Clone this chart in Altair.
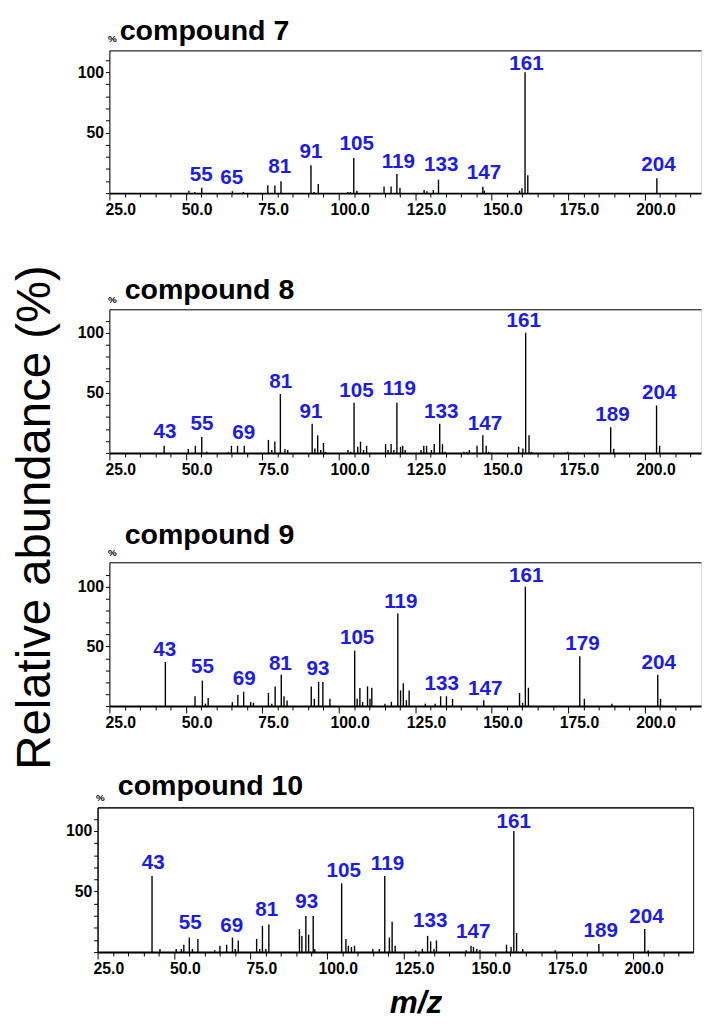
import altair as alt
import pandas as pd

FONT = "Liberation Sans"
BLUE = "#1c1ce6"

# ---------------- compound 7 ----------------
c7_mz = [51, 52.9, 55.2, 65.2, 68.8, 76.8, 79.1, 81.1, 90.9, 91.9, 93.3, 103, 103.8, 104.9, 105.9,
         114.8, 117.1, 119, 120, 127.9, 128.8, 130.9, 132.6, 147.1, 147.6, 159.1, 159.9, 160.9, 161.8, 204]
c7_ab = [2, 1, 4.4, 1.6, 1, 6.5, 6.3, 9.8, 23, 1, 7.6, 1, 1, 29, 2,
         5.4, 5.4, 15.8, 4.4, 2.7, 1.5, 2.7, 11.2, 5.2, 2, 2, 4, 100, 14.7, 12.3]
c7_lab = ["55", "65", "81", "91", "105", "119", "133", "147", "161", "204"]
c7_lab_x = [55, 65, 80.7, 90.9, 105.9, 119.5, 133.5, 147.5, 161.4, 204.5]
c7_lab_y = [10.1, 7.4, 16.3, 29.2, 36, 21, 18.3, 11.4, 101.4, 18.3]

# ---------------- compound 8 ----------------
c8_mz = [42.9, 50.8, 53.1, 55.2, 56.9, 63.9, 64.9, 66.9, 69.1, 77, 78.1, 79.1, 80.9, 82.4, 83.3,
         91.3, 92.2, 93.1, 94.1, 95, 95.7, 103, 103.9, 105, 106.2, 107.1, 108.1, 109.1,
         115.3, 116.1, 117.1, 118, 119, 120.2, 120.9, 121.7, 126.9, 127.8, 128.7, 130.3, 131.2,
         133, 133.9, 134.8, 140.9, 141.8, 142.7, 145.2, 147.1, 148.2, 149, 158.8, 160.2, 161.1,
         162.2, 163, 174.9, 188.9, 189.9, 203.9, 204.9]
c8_ab = [6, 3.3, 6, 13.4, 1, 1, 6, 6, 6, 10.9, 2.5, 9.5, 49, 3.3, 2.5,
         24.3, 3.8, 14.7, 2.5, 8.4, 1, 2.5, 1, 41.7, 5.2, 9.5, 2.5, 6,
         7.4, 2.5, 7.4, 2.5, 41.7, 5.2, 6, 2.5, 2.5, 6, 6, 2.5, 7.4,
         24.3, 7.4, 1, 1, 1, 2.5, 6, 14.7, 6, 1, 5.2, 3.8, 100,
         14.7, 1, 1, 21.5, 3.5, 39.5, 6]
c8_lab = ["43", "55", "69", "81", "91", "105", "119", "133", "147", "161", "189", "204"]
c8_lab_x = [43.2, 55.3, 68.9, 81, 90.9, 105.8, 119.8, 133.5, 147.8, 160.5, 189.5, 204.8]
c8_lab_y = [12.5, 18.8, 11.4, 54.2, 29.2, 46.6, 48.2, 29.2, 19.3, 104.6, 27, 44.7]

# ---------------- compound 9 ----------------
c9_mz = [43.3, 53, 55.4, 56.4, 57.3, 65.2, 67, 68.9, 71.2, 72.1, 77, 78.1, 79.2, 81.2, 82.1, 83.1,
         91, 92, 93.4, 94.8, 97.1, 105.2, 106, 106.9, 107.8, 109.4, 110.2, 110.8,
         115.1, 117.2, 119.3, 120.2, 121.1, 122.1, 123, 128.3, 131.5, 133.3, 135.2, 137.2,
         147.4, 159.1, 160.1, 161, 162, 178.8, 180.3, 189.3, 204.3, 205.2]
c9_ab = [36.9, 8.2, 21.3, 2, 6.8, 3.3, 9.3, 12, 3.3, 2.7, 10.9, 2, 16.4, 26.2, 8.2, 4.6,
         16.4, 6, 20.2, 20.2, 6, 46.4, 6, 15, 3.3, 16.4, 6, 15.3,
         2, 3.5, 77.6, 13.1, 19.1, 4.9, 13.1, 2, 2, 8.2, 8.2, 6,
         4.9, 10.9, 2.7, 100, 15.3, 41.8, 6, 2, 26.2, 6]
c9_lab = ["43", "55", "69", "81", "93", "105", "119", "133", "147", "161", "179", "204"]
c9_lab_x = [43.1, 55.4, 69.1, 80.9, 93.2, 106, 120.3, 133.7, 147.9, 161.3, 179.7, 204.6]
c9_lab_y = [42.3, 27.3, 17.8, 30.6, 26, 52, 82.5, 13.1, 9.6, 103.8, 47, 31.4]

# ---------------- compound 10 ----------------
c10_mz = [42.8, 45.4, 50.7, 52.4, 53.2, 55, 56, 57.8, 63.3, 65, 67.2, 69.1, 70, 71,
          77, 78, 78.9, 80, 81, 91, 91.8, 93.1, 94, 95.5, 96, 104.8, 106.2, 107, 108, 109,
          115, 117.1, 118.9, 120.4, 121.3, 122.3, 129, 131.2, 132.9, 133.9, 135, 135.8,
          145.5, 147.1, 147.9, 149, 150, 158.7, 160.2, 161.1, 162, 164, 174.6, 188.9, 203.9, 205]
c10_ab = [62.8, 2.6, 2.6, 2.6, 6.1, 12, 2.6, 10.9, 1.5, 5.3, 6.1, 12, 2.6, 9.6,
          10.9, 2.6, 21.7, 2.6, 22.8, 19, 13.4, 29.8, 14.4, 29.8, 2.6, 56.8, 10.9, 5.3, 4.2, 5.3,
          2.6, 2.6, 62.8, 12, 25, 5.3, 1.5, 2.6, 13.4, 8.8, 2.6, 9.6,
          1.5, 5.3, 4.2, 2.6, 2, 6.1, 4.2, 100, 15.8, 2.6, 1.5, 6.6, 19, 1.5]
c10_lab = ["43", "55", "69", "81", "93", "105", "119", "133", "147", "161", "189", "204"]
c10_lab_x = [43.2, 55.3, 68.9, 80.3, 93.4, 105.5, 119.8, 133.8, 147.8, 161.1, 189.5, 204.5]
c10_lab_y = [69, 18.8, 16.9, 29.6, 36.6, 61.9, 68.2, 20.4, 11.5, 102.4, 12.8, 24.2]

x_ticks = list(range(25, 216, 5))
y_ticks = list(range(0, 111, 10))

# layout per panel: plot size, y range, title placement, left shim width, bottom shim height
panels = [
    dict(name="compound 7", mz=c7_mz, ab=c7_ab, lab=c7_lab, lx=c7_lab_x, ly=c7_lab_y,
         width=601, height=145, ymax=118, tdx=10, tgap=11, pct_y=-9, shim_w=15, shim_h=187, box=False),
    dict(name="compound 8", mz=c8_mz, ab=c8_ab, lab=c8_lab, lx=c8_lab_x, ly=c8_lab_y,
         width=601, height=146, ymax=119.5, tdx=15, tgap=10.7, pct_y=-7, shim_w=15, shim_h=173, box=False),
    dict(name="compound 9", mz=c9_mz, ab=c9_ab, lab=c9_lab, lx=c9_lab_x, ly=c9_lab_y,
         width=601, height=146, ymax=120.5, tdx=15, tgap=19.3, pct_y=-7, shim_w=15, shim_h=1, box=False),
    dict(name="compound 10", mz=c10_mz, ab=c10_ab, lab=c10_lab, lx=c10_lab_x, ly=c10_lab_y,
         width=605, height=147, ymax=119.5, tdx=20, tgap=13.3, pct_y=-7, shim_w=1, shim_h=1, box=True),
]

PX_PER_UNIT = 3.107


def make_panel(p, last):
    xmax = 25 + p["width"] / PX_PER_UNIT
    xscale = alt.Scale(domain=[25, xmax], nice=False, zero=False)
    yscale = alt.Scale(domain=[0, p["ymax"]], nice=False, zero=True)
    peaks = pd.DataFrame({"mz": p["mz"], "ab": p["ab"]})
    labels = pd.DataFrame({"mz": p["lx"], "ab": p["ly"], "txt": p["lab"]})

    xaxis_kw = dict(
        values=x_ticks,
        labelExpr="datum.value % 25 === 0 ? format(datum.value, '.1f') : ''",
        tickSize={"condition": {"test": "datum.value % 25 === 0", "value": 7}, "value": 4},
        tickColor="black", tickWidth=1,
        labelOffset=11, labelPadding=2, labelFontSize=16, labelFontWeight="bold",
        labelColor="black", labelFont=FONT, labelFlush=False, labelOverlap=False,
        domainColor="black", domainWidth=2, grid=False,
    )
    if last:
        xaxis_kw.update(title="m/z", titleFont=FONT, titleFontSize=32, titleFontWeight="bold",
                        titleFontStyle="italic", titleColor="black", titleX=323, titleY=61,
                        titleBaseline="alphabetic", titleAlign="center")
    else:
        xaxis_kw.update(title=None)
    xaxis = alt.Axis(**xaxis_kw)

    yaxis = alt.Axis(
        values=y_ticks,
        labelExpr="datum.value == 50 || datum.value == 100 ? datum.value : ''",
        tickSize=4, tickColor="black", labelPadding=2, labelFontSize=16,
        labelFontWeight="bold", labelColor="black", labelFont=FONT,
        domainColor="black", domainWidth=1, grid=False, labelOverlap=False, labelFlush=False,
        title="%", titleAngle=0, titleX=-2, titleY=p["pct_y"], titleAlign="left",
        titleBaseline="alphabetic", titleFontSize=10, titleFontWeight="bold", titleFont=FONT,
        titleColor="black",
    )

    top_axis = alt.Axis(orient="top", ticks=False, labels=False, domain=True, domainColor="black",
                        domainWidth=1, grid=False, title=p["name"], titleAngle=0, titleX=p["tdx"],
                        titleY=-p["tgap"], titleAlign="left", titleBaseline="alphabetic",
                        titleFontSize=29, titleFontWeight="bold", titleFont=FONT, titleColor="black")

    sticks = alt.Chart(peaks).mark_rule(color="black", strokeWidth=1.4).encode(
        x=alt.X("mz:Q", scale=xscale, axis=xaxis),
        y=alt.Y("ab:Q", scale=yscale, axis=yaxis),
        y2=alt.datum(0),
    )
    texts = alt.Chart(labels).mark_text(
        font=FONT, fontSize=21, fontWeight="bold", color=BLUE, align="center", baseline="alphabetic"
    ).encode(
        x=alt.X("mz:Q", scale=xscale, axis=top_axis),
        y=alt.Y("ab:Q", scale=yscale, axis=yaxis),
        text="txt:N",
    )
    props = dict(width=p["width"], height=p["height"])
    if p["box"]:
        props["view"] = alt.ViewBackground(stroke="black", strokeWidth=1)
    plot = alt.layer(sticks, texts).resolve_axis(x="independent").properties(**props)

    shim = alt.Chart(pd.DataFrame({"a": [0]})).mark_point(opacity=0).encode(
        x=alt.value(0), y=alt.value(0)
    ).properties(width=p["shim_w"], height=p["shim_h"],
                 view=alt.ViewBackground(fill="transparent", stroke="transparent"))
    return alt.hconcat(shim, plot, spacing=0)


rows = [make_panel(p, i == len(panels) - 1) for i, p in enumerate(panels)]

chart = alt.vconcat(*rows, spacing=40).properties(
    title=alt.TitleParams(text="Relative abundance (%)", orient="left", anchor="middle",
                          fontSize=48, fontWeight="normal", font=FONT, color="black", offset=-3),
    padding={"left": 4, "top": 0, "right": 0, "bottom": 0},
).configure_view(stroke="transparent").configure(font=FONT)

chart.save("out.html", embed_options={"renderer": "svg", "actions": False})
